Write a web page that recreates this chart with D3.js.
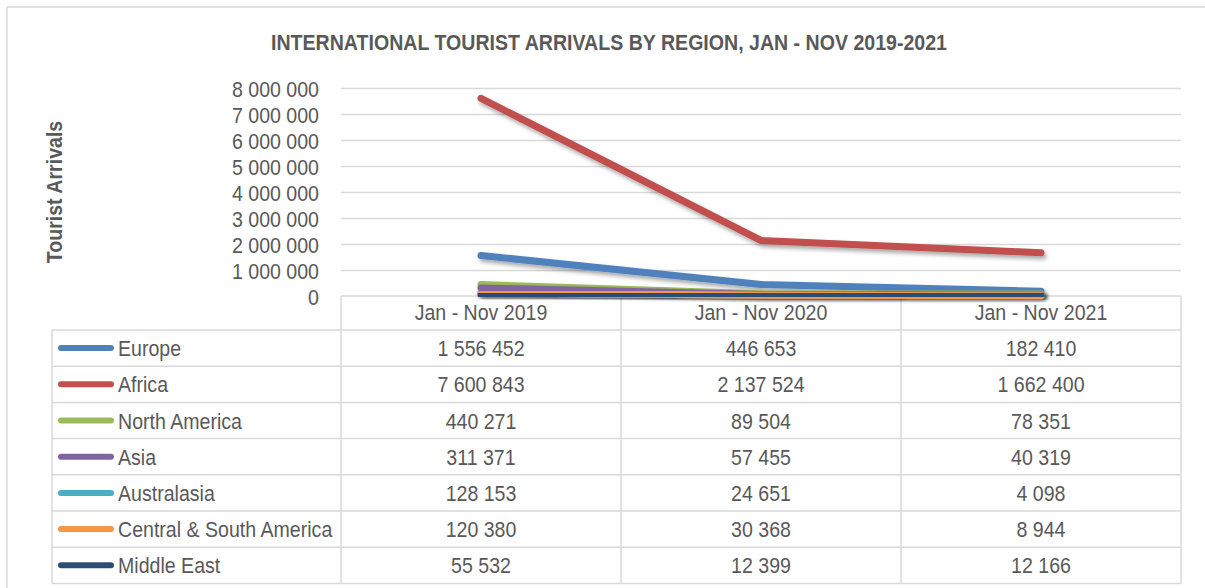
<!DOCTYPE html>
<html>
<head>
<meta charset="utf-8">
<script src="https://cdn.jsdelivr.net/npm/d3@7"></script>
<style>
  html, body { margin: 0; padding: 0; background: #fff; }
  svg { display: block; }
  text { font-family: "Liberation Sans", Arial, sans-serif; fill: #595959; }
</style>
</head>
<body>
<svg id="chart" width="1205" height="588"></svg>
<script>
// ---- data ----
const periods = ["Jan - Nov 2019", "Jan - Nov 2020", "Jan - Nov 2021"];
const regions = ["Europe", "Africa", "North America", "Asia", "Australasia", "Central & South America", "Middle East"];
const europe = [1556452, 446653, 182410];
const africa = [7600843, 2137524, 1662400];
const northAmerica = [440271, 89504, 78351];
const asia = [311371, 57455, 40319];
const australasia = [128153, 24651, 4098];
const centralSouthAmerica = [120380, 30368, 8944];
const middleEast = [55532, 12399, 12166];
const yTicks = [0, 1000000, 2000000, 3000000, 4000000, 5000000, 6000000, 7000000, 8000000];
const colors = ["#4F81BD", "#C0504D", "#9BBB59", "#8064A2", "#4BACC6", "#F79646", "#2C4D75"];
const titleText = "INTERNATIONAL TOURIST ARRIVALS BY REGION, JAN - NOV 2019-2021";
const yTitle = "Tourist Arrivals";

const seriesValues = [europe, africa, northAmerica, asia, australasia, centralSouthAmerica, middleEast];
const series = regions.map((name, i) => ({ name, values: seriesValues[i], color: colors[i] }));

// ---- layout ----
const plotLeft = 341, plotRight = 1181, plotTop = 88, plotBottom = 296;
const tableLeft = 52, headerBottom = 330, rowH = 36.2;
const grid = "#d9d9d9";
const SX = 0.89; // horizontal glyph compression
const FS = 22;

const locale = d3.formatLocale({ decimal: ".", thousands: " ", grouping: [3], currency: ["", ""] });
const fmt = locale.format(",d");

const svg = d3.select("#chart");
const defs = svg.append("defs");
const f = defs.append("filter").attr("id", "shadow").attr("x", "-10%").attr("y", "-50%").attr("width", "130%").attr("height", "250%");
f.append("feDropShadow").attr("dx", 2).attr("dy", 3).attr("stdDeviation", 2)
  .attr("flood-color", "#000").attr("flood-opacity", 0.35);

const x = d3.scaleBand().domain(periods).range([plotLeft, plotRight]);
const y = d3.scaleLinear().domain([0, 8000000]).range([plotBottom, plotTop]);

function label(g, txt, px, py, anchor, opts = {}) {
  const t = g.append("text")
    .attr("transform", `translate(${px},${py})${opts.rotate ? " rotate(" + opts.rotate + ")" : ""} scale(${SX},1)`)
    .attr("text-anchor", anchor)
    .style("font-size", (opts.size || FS) + "px")
    .text(txt);
  if (opts.bold) t.style("font-weight", "bold");
  return t;
}

// outer border
svg.append("line").attr("x1", 7).attr("x2", 1205).attr("y1", 7).attr("y2", 7).attr("stroke", grid).attr("stroke-width", 1.5);
svg.append("line").attr("x1", 7).attr("x2", 7).attr("y1", 7).attr("y2", 588).attr("stroke", grid).attr("stroke-width", 1.5);

// title
label(svg, titleText, 609, 50, "middle", { bold: true });

// y axis title
label(svg, yTitle, 62, 192, "middle", { bold: true, rotate: -90 });

// gridlines + y tick labels via axis
const yAxis = d3.axisLeft(y).tickValues(yTicks).tickSize(0).tickFormat(fmt);
const yg = svg.append("g").attr("transform", `translate(${plotLeft},0)`).call(yAxis);
yg.select(".domain").remove();
yg.selectAll("text").remove();
yg.selectAll(".tick").each(function (d) {
  const tk = d3.select(this);
  if (d > 0) {
    tk.append("line").attr("x1", 0).attr("x2", plotRight - plotLeft).attr("stroke", grid).attr("stroke-width", 1.5);
  }
  label(tk, fmt(d), -22, 8, "end");
});

// table grid
const nRows = regions.length;
const tableBottom = headerBottom + nRows * rowH;
const tg = svg.append("g").attr("stroke", grid).attr("stroke-width", 1.5);
tg.append("line").attr("x1", plotLeft).attr("x2", plotRight).attr("y1", plotBottom).attr("y2", plotBottom);
d3.range(nRows + 1).forEach(i => {
  const yy = headerBottom + i * rowH;
  tg.append("line").attr("x1", tableLeft).attr("x2", plotRight).attr("y1", yy).attr("y2", yy);
});
tg.append("line").attr("x1", tableLeft).attr("x2", tableLeft).attr("y1", headerBottom).attr("y2", tableBottom);
periods.forEach(p => {
  tg.append("line").attr("x1", x(p)).attr("x2", x(p)).attr("y1", plotBottom).attr("y2", tableBottom);
});
tg.append("line").attr("x1", plotRight).attr("x2", plotRight).attr("y1", plotBottom).attr("y2", tableBottom);

// header labels
periods.forEach(p => label(svg, p, x(p) + x.bandwidth() / 2, 320, "middle"));

// rows
series.forEach((s, i) => {
  const cy = headerBottom + i * rowH + rowH / 2;
  svg.append("line").attr("x1", 61).attr("x2", 111).attr("y1", cy).attr("y2", cy)
    .attr("stroke", s.color).attr("stroke-width", 6).attr("stroke-linecap", "round");
  label(svg, s.name, 118, cy + 8, "start");
  s.values.forEach((v, j) => label(svg, fmt(v), x(periods[j]) + x.bandwidth() / 2, cy + 8, "middle"));
});

// lines
const line = d3.line().x((d, i) => x(periods[i]) + x.bandwidth() / 2).y(d => y(d));
svg.append("g").selectAll("path").data(series).join("path")
  .attr("d", d => line(d.values))
  .attr("fill", "none")
  .attr("stroke", d => d.color)
  .attr("stroke-width", 7)
  .attr("stroke-linecap", "round")
  .attr("stroke-linejoin", "miter")
  .attr("filter", "url(#shadow)");
</script>
</body>
</html>
